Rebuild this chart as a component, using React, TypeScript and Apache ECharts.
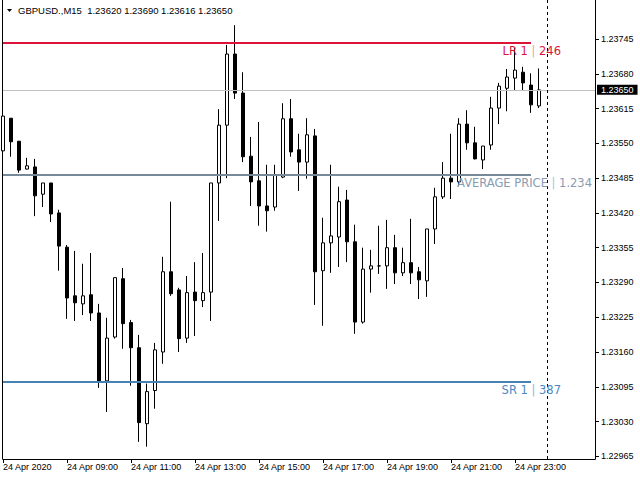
import React, { useEffect, useRef } from "react";
import * as echarts from "echarts";

// ---- header ----
const symbolTitle = "GBPUSD.,M15";
const headerOHLC = ["1.23620", "1.23690", "1.23616", "1.23650"];

// ---- candles (M15, first bar 24 Apr 07:00) ----
const opens = [
  1.23536, 1.23597, 1.23554, 1.23502, 1.23506, 1.23455, 1.23476, 1.2342, 1.23356, 1.23265,
  1.2325, 1.23267, 1.23233, 1.23106, 1.23188, 1.23297, 1.23215, 1.23168, 1.23026, 1.23088,
  1.2316, 1.2331, 1.23276, 1.23186, 1.23272, 1.23256, 1.23272, 1.23476, 1.23584, 1.23717,
  1.23644, 1.23526, 1.2348, 1.23433, 1.23431, 1.23487, 1.23596, 1.23538, 1.23515, 1.23564,
  1.23312, 1.23364, 1.23375, 1.23444, 1.23366, 1.23216, 1.23315, 1.23321, 1.23321, 1.23355,
  1.23308, 1.23327, 1.2331, 1.23293, 1.2339, 1.2345, 1.23485, 1.23478, 1.23586, 1.23551,
  1.23519, 1.23547, 1.23616, 1.23653, 1.23672, 1.23683, 1.23659, 1.2362,
];
const closes = [
  1.23601, 1.23553, 1.235, 1.23508, 1.23452, 1.23476, 1.23418, 1.23358, 1.23261, 1.23252,
  1.23265, 1.23233, 1.23106, 1.23186, 1.23299, 1.23213, 1.23168, 1.23028, 1.23086, 1.23164,
  1.2331, 1.23269, 1.23185, 1.23271, 1.23256, 1.23271, 1.23476, 1.23584, 1.23717, 1.23644,
  1.23525, 1.23478, 1.23433, 1.23424, 1.23491, 1.23596, 1.23534, 1.23515, 1.23566, 1.2331,
  1.23364, 1.23377, 1.23441, 1.23366, 1.23216, 1.23315, 1.23321, 1.23321, 1.23355, 1.23308,
  1.23327, 1.23308, 1.23295, 1.2339, 1.2345, 1.23485, 1.23478, 1.23586, 1.23551, 1.23521,
  1.23545, 1.23616, 1.23657, 1.23674, 1.23687, 1.23663, 1.23622, 1.2365,
];
const lows = [
  1.23534, 1.23525, 1.23495, 1.23501, 1.23414, 1.23431, 1.23403, 1.23312, 1.23222, 1.23218,
  1.23229, 1.23218, 1.23093, 1.23048, 1.23185, 1.23166, 1.23097, 1.22992, 1.22983, 1.23054,
  1.23138, 1.23265, 1.2316, 1.23177, 1.2319, 1.23244, 1.23218, 1.23405, 1.23485, 1.23633,
  1.23515, 1.23433, 1.23396, 1.23385, 1.23424, 1.23485, 1.23525, 1.23461, 1.23484, 1.23248,
  1.23209, 1.23308, 1.23319, 1.23328, 1.23194, 1.23213, 1.23271, 1.23306, 1.23278, 1.23287,
  1.23302, 1.23287, 1.23259, 1.23263, 1.23362, 1.23446, 1.23446, 1.2347, 1.23538, 1.2352,
  1.23502, 1.23538, 1.23586, 1.2361, 1.23648, 1.23648, 1.23607, 1.23616,
];
const highs = [
  1.23605, 1.23597, 1.23554, 1.23523, 1.23521, 1.23476, 1.23476, 1.23426, 1.2336, 1.23349,
  1.23325, 1.23345, 1.2325, 1.23224, 1.23299, 1.23317, 1.2322, 1.23192, 1.23101, 1.23177,
  1.23338, 1.23441, 1.2328, 1.23302, 1.23328, 1.23345, 1.23476, 1.23614, 1.23734, 1.23771,
  1.23683, 1.23562, 1.2359, 1.2351, 1.2351, 1.23625, 1.23633, 1.23568, 1.23597, 1.23577,
  1.23411, 1.2351, 1.23469, 1.23463, 1.23398, 1.23355, 1.23351, 1.23396, 1.23407, 1.23379,
  1.23355, 1.23409, 1.23319, 1.2339, 1.23467, 1.23515, 1.23568, 1.23597, 1.23612, 1.23581,
  1.23545, 1.23637, 1.23663, 1.23689, 1.23728, 1.23693, 1.23681, 1.2369,
];

// ---- axes ----
const futureSlots = 7;
const firstBarMinutes = 7 * 60;
const xTickLabels = [
  "24 Apr 2020", "24 Apr 09:00", "24 Apr 11:00", "24 Apr 13:00", "24 Apr 15:00",
  "24 Apr 17:00", "24 Apr 19:00", "24 Apr 21:00", "24 Apr 23:00",
];
const yTicks = [
  1.22965, 1.2303, 1.23095, 1.2316, 1.23225, 1.2329, 1.23355, 1.2342, 1.23485, 1.2355,
  1.23615, 1.2368, 1.23745,
];
const yMin = 1.2296;
const yMax = 1.23818;

// ---- levels ----
const bidPrice = 1.2365;
const lrLevel = 1.23738;
const lrLabel = ["LR 1", "246"];
const avgLevel = 1.23491;
const avgLabel = ["AVERAGE PRICE", "1.234"];
const srLevel = 1.23104;
const srLabel = ["SR 1", "387"];
const lineEndIndex = 66;
const separatorIndex = 68;

const pad = (n: number) => (n < 10 ? "0" + n : "" + n);
const categories = Array.from({ length: opens.length + futureSlots }, (_, i) => {
  const t = firstBarMinutes + 15 * i;
  const d = 24 + Math.floor(t / 1440);
  const m = t % 1440;
  return `${d} Apr ${pad(Math.floor(m / 60))}:${pad(m % 60)}`;
});

const AXIS_FONT = "Liberation Sans";
const LABEL_FONT = "DejaVu Sans";

function levelLabel(parts: string[], main: string, bar: string, dx: number) {
  return {
    show: true,
    position: "insideEndBottom",
    distance: [dx, 2],
    fontSize: 11.5,
    fontFamily: LABEL_FONT,
    color: main,
    formatter: `{a|${parts[0]}} {b||} {a|${parts[1]}}`,
    rich: {
      a: { color: main, fontSize: 11.5, fontFamily: LABEL_FONT },
      b: { color: bar, fontSize: 11.5, fontFamily: LABEL_FONT },
    },
  };
}

export default function App() {
  const ref = useRef<HTMLDivElement>(null);
  useEffect(() => {
    if (!ref.current) return;
    const chart = echarts.init(ref.current, undefined, { renderer: "svg" });
    const nBars = opens.length;
    const lastSlot = categories.length - 1;
    const option: any = {
      animation: false,
      backgroundColor: "#ffffff",
      grid: { left: 3, right: 45, top: 0, bottom: 21, outerBoundsMode: "none" },
      graphic: [
        {
          type: "polygon",
          shape: { points: [[7, 9], [12, 9], [9.5, 12]] },
          style: { fill: "#000" },
        },
        {
          type: "text",
          x: 18,
          y: 10.5,
          style: {
            text: `${symbolTitle}  ${headerOHLC.join(" ")}`,
            fill: "#000",
            fontSize: 9.5,
            fontFamily: AXIS_FONT,
            verticalAlign: "middle",
          },
        },
      ],
      xAxis: {
        type: "category",
        data: categories,
        boundaryGap: false,
        axisLine: { show: true, onZero: false, lineStyle: { color: "#000", width: 1 } },
        axisTick: {
          show: true,
          length: 4,
          interval: (i: number) => i % 8 === 0 && i < nBars,
          lineStyle: { color: "#000" },
        },
        axisLabel: {
          show: true,
          interval: (i: number) => i % 8 === 0 && i < nBars,
          formatter: (_v: string, i: number) => xTickLabels[i / 8] ?? "",
          align: "left",
          margin: 3,
          color: "#000",
          fontSize: 9,
          fontFamily: AXIS_FONT,
        },
        splitLine: { show: false },
      },
      yAxis: [
        {
          type: "value",
          position: "right",
          min: yMin,
          max: yMax,
          axisLine: { show: true, onZero: false, lineStyle: { color: "#000", width: 1 } },
          axisTick: { show: true, length: 4, customValues: yTicks, lineStyle: { color: "#000" } },
          axisLabel: {
            show: true,
            customValues: yTicks,
            margin: 6,
            color: "#000",
            fontSize: 9,
            fontFamily: AXIS_FONT,
            formatter: (v: number) => v.toFixed(5),
          },
          splitLine: { show: false },
        },
        {
          type: "value",
          position: "left",
          min: yMin,
          max: yMax,
          offset: 1,
          axisLine: { show: true, onZero: false, lineStyle: { color: "#000", width: 1 } },
          axisTick: { show: false },
          axisLabel: { show: false },
          splitLine: { show: false },
        },
      ],
      series: [
        {
          type: "line",
          name: "bid",
          yAxisIndex: 0,
          data: closes.map(() => null),
          showSymbol: false,
          clip: false,
          silent: true,
          z: 1,
          markLine: {
            symbol: ["none", "none"],
            silent: true,
            animation: false,
            data: [
              [
                {
                  coord: [0, bidPrice],
                  lineStyle: { color: "#C0C0C0", width: 1, type: "solid" },
                  label: {
                    show: true,
                    position: "end",
                    distance: 2,
                    formatter: () => bidPrice.toFixed(5),
                    backgroundColor: "#000",
                    color: "#fff",
                    padding: [1, 4, 0, 4],
                    fontSize: 9,
                    fontFamily: AXIS_FONT,
                  },
                },
                { coord: [lastSlot, bidPrice] },
              ],
            ],
          },
        },
        {
          type: "candlestick",
          yAxisIndex: 0,
          data: opens.map((o, i) => [o, closes[i], lows[i], highs[i]]),
          barWidth: 4,
          silent: true,
          z: 2,
          itemStyle: {
            color: "#ffffff",
            color0: "#000000",
            borderColor: "#000000",
            borderColor0: "#000000",
            borderColorDoji: "#000000",
            borderWidth: 1,
          },
          markLine: {
            symbol: ["none", "none"],
            silent: true,
            animation: false,
            data: [
              {
                xAxis: separatorIndex,
                lineStyle: { color: "#000", width: 1, type: [3, 3] },
                label: { show: false },
              },
              [
                {
                  coord: [0, lrLevel],
                  lineStyle: { color: "#DC143C", width: 2, type: "solid" },
                  label: levelLabel(lrLabel, "#DC143C", "#F4A582", -30),
                },
                { coord: [lineEndIndex, lrLevel] },
              ],
              [
                {
                  coord: [0, avgLevel],
                  lineStyle: { color: "#778899", width: 2, type: "solid" },
                  label: levelLabel(avgLabel, "#8A9BB0", "#A3C3E6", -61),
                },
                { coord: [lineEndIndex, avgLevel] },
              ],
              [
                {
                  coord: [0, srLevel],
                  lineStyle: { color: "#4682B4", width: 2, type: "solid" },
                  label: levelLabel(srLabel, "#4A8AC4", "#8FB8E0", -30),
                },
                { coord: [lineEndIndex, srLevel] },
              ],
            ],
          },
        },
      ],
    };
    chart.setOption(option);
    return () => chart.dispose();
  }, []);
  return (
    <div
      ref={ref}
      style={{ position: "fixed", left: 0, top: 0, width: 640, height: 480, background: "#fff" }}
    />
  );
}
